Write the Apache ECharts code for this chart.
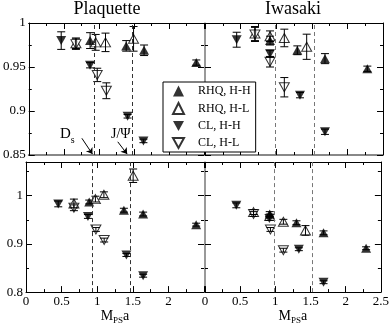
<!DOCTYPE html>
<html>
<head>
<meta charset="utf-8">
<script src="https://cdn.jsdelivr.net/npm/echarts@6/dist/echarts.min.js"></script>
<style>
  html, body { margin: 0; padding: 0; background: #fff; }
  #chart { width: 392px; height: 326px; }
</style>
</head>
<body>
<div id="chart"></div>
<script>
// each point: [M_PS a, ratio, error]
const plaqTopRhqHH = [[0.875, 0.980, 0.009], [1.39, 0.974, 0.006], [1.645, 0.969, 0.006], [2.39, 0.955, 0.003]];
const plaqTopRhqHL = [[0.673, 0.977, 0.006], [0.955, 0.978, 0.009], [1.095, 0.978, 0.0105], [1.495, 0.982, 0.014]];
const plaqTopClHH = [[0.463, 0.980, 0.010], [0.874, 0.952, 0.003], [1.41, 0.894, 0.002], [1.636, 0.866, 0.002]];
const plaqTopClHL = [[0.673, 0.976, 0.006], [0.977, 0.941, 0.0076], [1.107, 0.923, 0.009]];

const iwaTopRhqHH = [[0.913, 0.980, 0.005], [1.297, 0.969, 0.005], [1.685, 0.9595, 0.0057], [2.28, 0.948, 0.003]];
const iwaTopRhqHL = [[0.702, 0.988, 0.008], [0.913, 0.985, 0.006], [1.114, 0.983, 0.010], [1.428, 0.973, 0.0143]];
const iwaTopClHH = [[0.445, 0.981, 0.0085], [0.913, 0.965, 0.004], [1.334, 0.918, 0.003], [1.685, 0.8764, 0.003]];
const iwaTopClHL = [[0.702, 0.987, 0.008], [0.913, 0.956, 0.006], [1.114, 0.927, 0.011]];

const plaqBotRhqHH = [[0.888, 0.987, 0.004], [1.375, 0.970, 0.004], [1.645, 0.962, 0.004], [2.39, 0.940, 0.003]];
const plaqBotRhqHL = [[0.673, 0.984, 0.009], [0.975, 0.993, 0.006], [1.094, 1.002, 0.006], [1.505, 1.0415, 0.014]];
const plaqBotClHH = [[0.453, 0.983, 0.006], [0.870, 0.957, 0.004], [1.41, 0.877, 0.003], [1.645, 0.834, 0.003]];
const plaqBotClHL = [[0.673, 0.975, 0.006], [0.982, 0.930, 0.004], [1.098, 0.908, 0.004]];

const iwaBotRhqHH = [[0.920, 0.962, 0.005], [1.30, 0.944, 0.004], [1.685, 0.923, 0.004], [2.29, 0.891, 0.003]];
const iwaBotRhqHL = [[0.690, 0.966, 0.005], [0.920, 0.958, 0.004], [1.114, 0.946, 0.005], [1.428, 0.928, 0.010]];
const iwaBotClHH = [[0.445, 0.980, 0.005], [0.915, 0.953, 0.004], [1.334, 0.889, 0.003], [1.685, 0.8205, 0.003]];
const iwaBotClHL = [[0.690, 0.962, 0.005], [0.930, 0.930, 0.004], [1.114, 0.887, 0.004]];

// D_s and J/Psi masses
const plaqMesonLines = [0.93, 1.468];
const iwaMesonLines = [0.983, 1.53];

const xTicks = { min: 0, max: 2.5, interval: 0.5 };
const topRatioTicks = { min: 0.85, max: 1.0, interval: 0.05 };
const botRatioTicks = { min: 0.8, max: 1.07, interval: 0.1 };

const legendNames = ['RHQ, H-H', 'RHQ, H-L', 'CL, H-H', 'CL, H-L'];

const FONT = 'Liberation Serif';
const DOWN = 'path://M0,0L10,0L5,9Z';

const grids = [
  { left: 26, top: 23, width: 178, height: 132 },
  { left: 205, top: 23, width: 178, height: 132 },
  { left: 26, top: 162, width: 178, height: 131 },
  { left: 205, top: 162, width: 178, height: 131 },
];

const tickStyle = (ticks) => ({
  axisTick: { show: true, inside: true, length: 6, lineStyle: { color: '#000' } },
  minorTick: { show: true, inside: true, splitNumber: 2, length: 3, lineStyle: { color: '#000' } },
  splitLine: { show: false },
  minorSplitLine: { show: false },
  ...ticks,
});

const xAxisFor = (gridIndex, position, lineColor, lineWidth, labels, hideLast) => ({
  type: 'value',
  gridIndex,
  position,
  ...tickStyle(xTicks),
  axisLine: { show: true, onZero: false, lineStyle: { color: lineColor, width: lineWidth } },
  axisLabel: {
    show: labels,
    margin: 3,
    fontFamily: FONT,
    fontSize: 13,
    color: '#000',
    formatter: (v) => (hideLast && v > 2.4 ? '' : String(v)),
  },
  name: labels ? '{a|M}{b|PS}{a|a}' : '',
  nameLocation: 'middle',
  nameGap: 16,
  nameTextStyle: {
    rich: {
      a: { fontFamily: FONT, fontSize: 14, color: '#000', lineHeight: 16, verticalAlign: 'top' },
      b: { fontFamily: FONT, fontSize: 9, color: '#000', lineHeight: 8, verticalAlign: 'bottom' },
    },
  },
});

const yAxisFor = (gridIndex, position, lineColor, lineWidth, labels, ticks) => ({
  type: 'value',
  gridIndex,
  position,
  ...tickStyle(ticks),
  axisLine: { show: true, onZero: false, lineStyle: { color: lineColor, width: lineWidth } },
  axisLabel: {
    show: labels,
    margin: 3,
    fontFamily: FONT,
    fontSize: 13,
    color: '#000',
    formatter: (v) => (v > 1.001 ? '' : String(Math.round(v * 1000) / 1000)),
  },
});

const renderErrorBar = (params, api) => {
  const x = api.value(0);
  const y = api.value(1);
  const e = api.value(2);
  const hi = api.coord([x, y + e]);
  const lo = api.coord([x, y - e]);
  const w = 4;
  const style = { stroke: '#000', lineWidth: 1 };
  return {
    type: 'group',
    children: [
      { type: 'line', shape: { x1: hi[0], y1: hi[1], x2: lo[0], y2: lo[1] }, style },
      { type: 'line', shape: { x1: hi[0] - w, y1: hi[1], x2: hi[0] + w, y2: hi[1] }, style },
      { type: 'line', shape: { x1: lo[0] - w, y1: lo[1], x2: lo[0] + w, y2: lo[1] }, style },
    ],
  };
};

const filled = { color: '#000' };
const open = { color: '#fff', borderColor: '#000', borderWidth: 1 };

const panelSeries = (idx, rhqHH, rhqHL, clHH, clHL, mesonLines, lineColor) => {
  const base = { type: 'scatter', xAxisIndex: idx, yAxisIndex: idx, symbolSize: [10, 9], z: 2 };
  return [
    { ...base, name: 'RHQ, H-L', symbol: 'triangle', itemStyle: open, data: rhqHL },
    { ...base, name: 'CL, H-L', symbol: DOWN, itemStyle: open, data: clHL },
    { ...base, name: 'RHQ, H-H', symbol: 'triangle', itemStyle: filled, data: rhqHH },
    { ...base, name: 'CL, H-H', symbol: DOWN, itemStyle: filled, data: clHH },
    {
      type: 'custom',
      name: 'errors',
      xAxisIndex: idx,
      yAxisIndex: idx,
      z: 3,
      renderItem: renderErrorBar,
      encode: { x: 0, y: 1 },
      data: [].concat(rhqHH, rhqHL, clHH, clHL),
      markLine: {
        silent: true,
        symbol: ['none', 'none'],
        label: { show: false },
        lineStyle: { type: [4, 3], color: lineColor, width: 1 },
        data: mesonLines.map((v) => ({ xAxis: v })),
      },
    },
  ];
};

const chart = echarts.init(document.getElementById('chart'));

const series = [
  ...panelSeries(0, plaqTopRhqHH, plaqTopRhqHL, plaqTopClHH, plaqTopClHL, plaqMesonLines, '#333'),
  ...panelSeries(1, iwaTopRhqHH, iwaTopRhqHL, iwaTopClHH, iwaTopClHL, iwaMesonLines, '#777'),
  ...panelSeries(2, plaqBotRhqHH, plaqBotRhqHL, plaqBotClHH, plaqBotClHL, plaqMesonLines, '#333'),
  ...panelSeries(3, iwaBotRhqHH, iwaBotRhqHL, iwaBotClHH, iwaBotClHL, iwaMesonLines, '#777'),
  // arrows pointing at the D_s and J/Psi lines
  {
    type: 'line',
    xAxisIndex: 0,
    yAxisIndex: 0,
    data: [],
    markLine: {
      silent: true,
      symbol: ['none', 'arrow'],
      symbolSize: 6,
      label: { show: false },
      lineStyle: { type: 'solid', color: '#000', width: 1 },
      data: [
        [{ coord: [0.758, 0.869] }, { coord: [0.909, 0.851] }],
        [{ coord: [1.27, 0.865] }, { coord: [1.404, 0.851] }],
      ],
    },
  },
];

const option = {
  animation: false,
  backgroundColor: '#fff',
  grid: grids,
  xAxis: [
    xAxisFor(0, 'bottom', '#888', 2, false, false),
    xAxisFor(1, 'bottom', '#888', 2, false, false),
    xAxisFor(2, 'bottom', '#000', 1, true, true),
    xAxisFor(3, 'bottom', '#000', 1, true, false),
    xAxisFor(0, 'top', '#000', 1, false, false),
    xAxisFor(1, 'top', '#000', 1, false, false),
    xAxisFor(2, 'top', '#000', 1, false, false),
    xAxisFor(3, 'top', '#000', 1, false, false),
  ],
  yAxis: [
    yAxisFor(0, 'left', '#000', 1, true, topRatioTicks),
    yAxisFor(1, 'left', '#999', 1, false, topRatioTicks),
    yAxisFor(2, 'left', '#000', 1, true, botRatioTicks),
    yAxisFor(3, 'left', '#999', 1, false, botRatioTicks),
    yAxisFor(0, 'right', '#999', 1, false, topRatioTicks),
    yAxisFor(1, 'right', '#000', 1, false, topRatioTicks),
    yAxisFor(2, 'right', '#999', 1, false, botRatioTicks),
    yAxisFor(3, 'right', '#000', 1, false, botRatioTicks),
  ],
  legend: {
    data: legendNames,
    orient: 'vertical',
    left: 163,
    top: 82,
    padding: [3, 5, 3, 9],
    itemGap: 5,
    itemWidth: 11,
    itemHeight: 11,
    backgroundColor: '#fff',
    borderColor: '#000',
    borderWidth: 1,
    borderRadius: 0,
    selectedMode: false,
    z: 10,
    formatter: (name) => '   ' + name,
    textStyle: { fontFamily: FONT, fontSize: 12, color: '#000' },
  },
  graphic: [
    {
      type: 'text', x: 107, y: 9, z: 10,
      style: { text: 'Plaquette', font: '18px "Liberation Serif"', fill: '#000', align: 'center', verticalAlign: 'middle' },
    },
    {
      type: 'text', x: 293, y: 9, z: 10,
      style: { text: 'Iwasaki', font: '18px "Liberation Serif"', fill: '#000', align: 'center', verticalAlign: 'middle' },
    },
    {
      type: 'text', x: 60, y: 136, z: 10,
      style: {
        text: '{a|D}{b|s}',
        verticalAlign: 'middle',
        rich: {
          a: { fontFamily: FONT, fontSize: 15, fill: '#000', lineHeight: 18, verticalAlign: 'top' },
          b: { fontFamily: FONT, fontSize: 10, fill: '#000', lineHeight: 8, verticalAlign: 'bottom' },
        },
      },
    },
    {
      type: 'text', x: 111, y: 134.5, z: 10,
      style: { text: 'J/\u03a8', font: '14px "Liberation Serif"', fill: '#000', verticalAlign: 'middle' },
    },
  ],
  series,
};

chart.setOption(option);
</script>
</body>
</html>
